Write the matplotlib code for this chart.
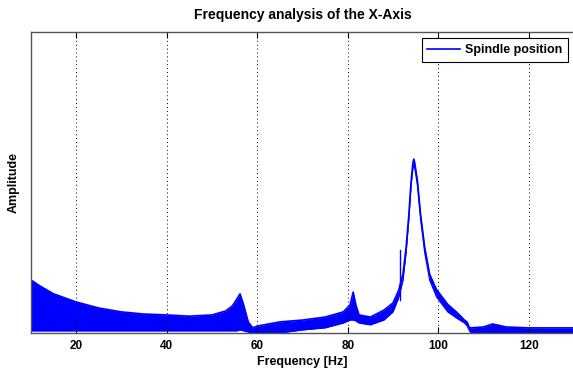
import numpy as np
import matplotlib.pyplot as plt

# upper / lower edge of the spectrum band (arbitrary amplitude units)
freq = [10, 12, 15, 20, 25, 30, 35, 40, 45, 50, 53, 54.5, 55.5, 56.2, 57, 58, 59, 60,
        65, 70, 75, 79, 80.5, 81.2, 81.8, 82.5, 85, 88, 90, 91.2, 92.2, 92.9, 93.5,
        94.0, 94.4, 94.6, 94.8, 95.4, 96.1, 97.0, 98.1, 99.6, 102.1, 104, 105.8, 106.4,
        106.8, 107.2, 110, 112, 115, 120, 125, 130]
upper = [0.176, 0.156, 0.130, 0.103, 0.083, 0.070, 0.063, 0.060, 0.056, 0.060, 0.073,
         0.090, 0.113, 0.130, 0.093, 0.037, 0.017, 0.023, 0.037, 0.043, 0.053, 0.070,
         0.093, 0.136, 0.093, 0.060, 0.053, 0.076, 0.100, 0.140, 0.195, 0.285, 0.393,
         0.505, 0.565, 0.578, 0.565, 0.505, 0.393, 0.285, 0.195, 0.145, 0.095, 0.070,
         0.043, 0.036, 0.020, 0.017, 0.020, 0.030, 0.020, 0.017, 0.017, 0.017]
lower = [0.007, 0.007, 0.007, 0.007, 0.007, 0.007, 0.007, 0.007, 0.007, 0.007, 0.007,
         0.007, 0.007, 0.010, 0.007, 0.003, 0.0, 0.0, 0.0, 0.010, 0.017, 0.033,
         0.043, 0.043, 0.040, 0.033, 0.027, 0.043, 0.070, 0.115, 0.175, 0.267, 0.377,
         0.490, 0.548, 0.560, 0.548, 0.490, 0.377, 0.267, 0.175, 0.120, 0.070, 0.050,
         0.033, 0.023, 0.010, 0.0, 0.0, 0.0, 0.0, 0.0, 0.0, 0.0]

# narrow spike just left of the main resonance
spike_f = [91.5, 91.5]
spike_a = [0.110, 0.276]

fig = plt.figure(figsize=(5.73, 3.72), dpi=100)
ax = fig.add_axes([31/573, 39/372, 543/573, 301/372])

blue = (0, 0, 1)
ax.fill_between(freq, lower, upper, color=blue, lw=0)
ax.plot(freq, upper, color=blue, lw=1.2, label="Spindle position")
ax.plot(freq, lower, color=blue, lw=0.8)
ax.plot(spike_f, spike_a, color=blue, lw=1)

ax.set_xlim(10, 130)
ax.set_ylim(0, 1)
ax.set_xticks([20, 40, 60, 80, 100, 120])
ax.set_yticks([])
ax.tick_params(axis="x", direction="in", top=True, length=4, labelsize=8.5, pad=5)
for lab in ax.get_xticklabels():
    lab.set_fontweight("bold")
    lab.set_family("Liberation Sans")
ax.grid(axis="x", color="black", linestyle=(0, (1, 3)), lw=0.7)
for s in ax.spines.values():
    s.set_color("#555555")
    s.set_linewidth(1)

ax.set_title("Frequency analysis of the X-Axis", fontsize=10, fontweight="bold",
             family="Liberation Sans", pad=9)
ax.set_xlabel("Frequency [Hz]", fontsize=9, fontweight="bold", family="Liberation Sans", labelpad=3)
ax.set_ylabel("Amplitude", fontsize=9, fontweight="bold", family="Liberation Sans", labelpad=8)

leg = ax.legend(loc="upper right", fancybox=False, edgecolor="black", framealpha=1,
                prop={"family": "Liberation Sans", "weight": "bold", "size": 9},
                borderaxespad=0.5, handlelength=2.6, handletextpad=0.4, borderpad=0.45)
leg.get_frame().set_linewidth(0.8)

fig.savefig("out.png")
